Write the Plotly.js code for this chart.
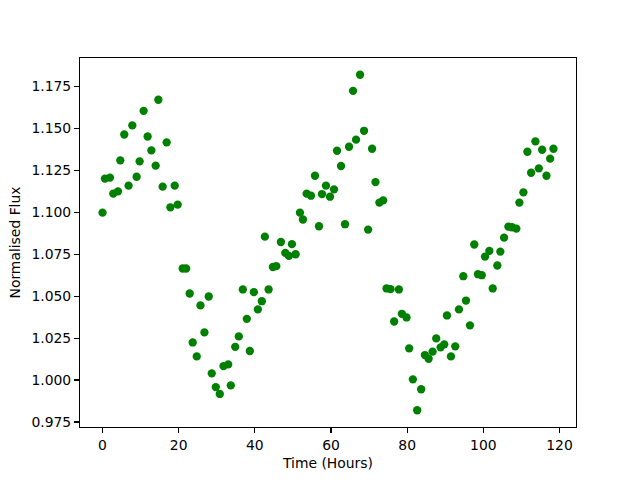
<!DOCTYPE html>
<html>
<head>
<meta charset="utf-8">
<script src="https://cdn.plot.ly/plotly-3.0.1.min.js"></script>
<style>html,body{margin:0;padding:0;background:#fff}#chart{width:640px;height:480px}</style>
</head>
<body>
<div id="chart"></div>
<script>
const timeHours = [
  0.0, 0.63, 1.95, 2.82, 4.05, 4.66, 5.71, 6.84, 7.82, 8.95,
  9.74, 10.79, 11.84, 12.82, 13.95, 14.66, 15.79, 16.84, 17.82, 18.95,
  19.74, 21.05, 21.95, 22.89, 23.68, 24.74, 25.71, 26.76, 27.89, 28.68,
  29.74, 30.79, 31.76, 33.0, 33.68, 34.84, 35.79, 36.84, 37.89, 38.68,
  39.74, 40.79, 41.84, 42.63, 43.61, 44.74, 45.63, 46.84, 48.0, 48.95,
  49.74, 50.71, 51.84, 52.63, 53.61, 54.74, 55.79, 56.84, 57.63, 58.68,
  59.74, 60.79, 61.58, 62.63, 63.68, 64.74, 65.79, 66.58, 67.63, 68.68,
  69.74, 70.79, 71.68, 72.7, 73.7, 74.58, 75.63, 76.58, 77.82, 78.61,
  79.84, 80.53, 81.5, 82.63, 83.68, 84.66, 85.63, 86.68, 87.63, 88.79,
  89.74, 90.45, 91.5, 92.63, 93.6, 94.74, 95.45, 96.5, 97.63, 98.6,
  99.58, 100.45, 101.58, 102.47, 103.68, 104.47, 105.45, 106.58, 107.55, 108.68,
  109.47, 110.53, 111.58, 112.55, 113.68, 114.58, 115.45, 116.58, 117.55, 118.42
];
const normalisedFlux = [
  1.0998, 1.1201, 1.1207, 1.1111, 1.1125, 1.1310, 1.1464, 1.1159, 1.1518, 1.1212,
  1.1304, 1.1605, 1.1452, 1.1369, 1.1278, 1.1671, 1.1153, 1.1417, 1.1030, 1.1159,
  1.1046, 1.0665, 1.0665, 1.0516, 1.0224, 1.0141, 1.0445, 1.0284, 1.0498, 1.0040,
  0.9958, 0.9917, 1.0083, 1.0093, 0.9968, 1.0198, 1.0260, 1.0540, 1.0365, 1.0173,
  1.0524, 1.0421, 1.0470, 1.0855, 1.0540, 1.0674, 1.0679, 1.0823, 1.0758, 1.0740,
  1.0810, 1.0750, 1.0998, 1.0957, 1.1111, 1.1099, 1.1218, 1.0917, 1.1109, 1.1159,
  1.1093, 1.1137, 1.1367, 1.1276, 1.0929, 1.1391, 1.1724, 1.1433, 1.1820, 1.1486,
  1.0897, 1.1379, 1.1180, 1.1058, 1.1071, 1.0546, 1.0542, 1.0349, 1.0540, 1.0395,
  1.0373, 1.0189, 1.0004, 0.9820, 0.9945, 1.0149, 1.0127, 1.0169, 1.0248, 1.0195,
  1.0213, 1.0385, 1.0141, 1.0201, 1.0421, 1.0619, 1.0474, 1.0326, 1.0808, 1.0631,
  1.0625, 1.0736, 1.0770, 1.0546, 1.0683, 1.0766, 1.0849, 1.0915, 1.0911, 1.0903,
  1.1058, 1.1119, 1.1361, 1.1236, 1.1423, 1.1262, 1.1373, 1.1218, 1.1320, 1.1379
];
const xTitle = "Time (Hours)";
const yTitle = "Normalised Flux";

const font = {family: "DejaVu Sans", size: 13.9, color: "#000"};
const axisCommon = {
  showgrid: false, zeroline: false,
  showline: true, linecolor: "#000", linewidth: 1.1, mirror: true,
  ticks: "outside", ticklen: 4.9, tickwidth: 1.1, tickcolor: "#000",
  tickfont: font
};
const trace = {
  x: timeHours, y: normalisedFlux, type: "scatter", mode: "markers",
  marker: {color: "#008000", size: 8.3, line: {width: 0}}
};
const layout = {
  width: 640, height: 480,
  paper_bgcolor: "#fff", plot_bgcolor: "#fff",
  margin: {l: 80, r: 64, t: 58, b: 53},
  showlegend: false,
  font: font,
  xaxis: Object.assign({}, axisCommon, {
    range: [-5.92, 124.34], tick0: 0, dtick: 20,
    title: {text: xTitle, font: font, standoff: 6}
  }),
  yaxis: Object.assign({}, axisCommon, {
    range: [0.972, 1.192], tick0: 0.975, dtick: 0.025, tickformat: ".3f",
    title: {text: yTitle, font: font, standoff: 7}
  })
};
Plotly.newPlot("chart", [trace], layout, {displayModeBar: false, staticPlot: true});
</script>
</body>
</html>
